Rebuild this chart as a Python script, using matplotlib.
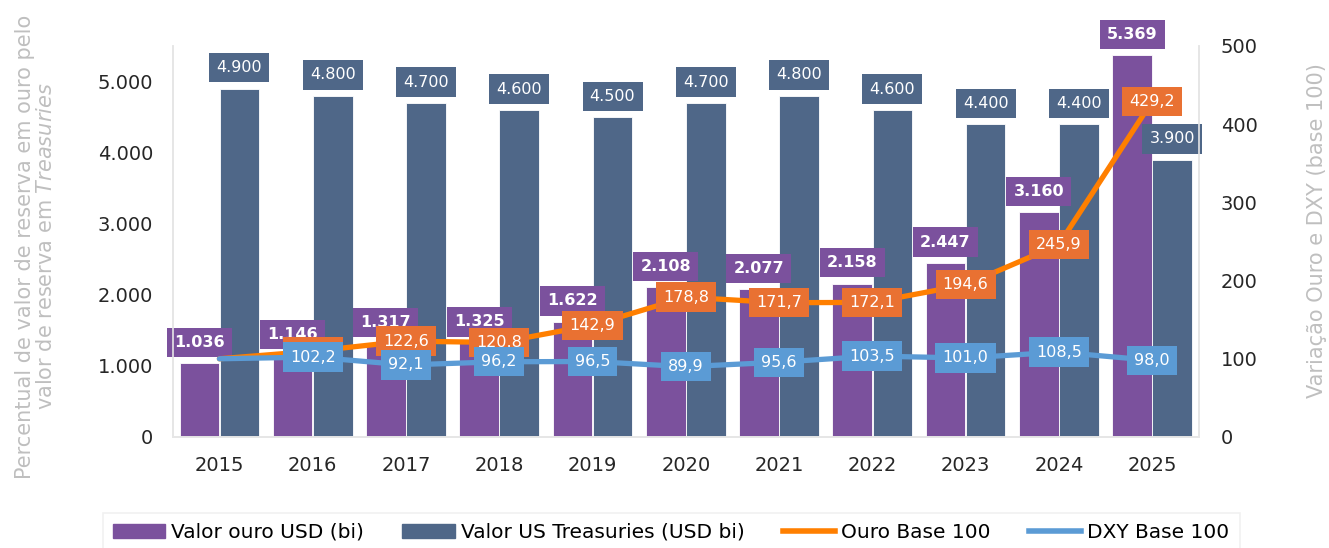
import matplotlib
matplotlib.use('Agg')
import matplotlib.pyplot as plt
from matplotlib.patches import Patch
from matplotlib.lines import Line2D
import numpy as np

plt.rcParams['font.family'] = ['DejaVu Sans']

# Dados
anos = ['2015', '2016', '2017', '2018', '2019', '2020', '2021', '2022', '2023', '2024', '2025']
ouro_usd = [1036, 1146, 1317, 1325, 1622, 2108, 2077, 2158, 2447, 3160, 5369]
treasuries_usd = [4900, 4800, 4700, 4600, 4500, 4700, 4800, 4600, 4400, 4400, 3900]
ouro_base100 = [100.0, 109.6, 122.6, 120.8, 142.9, 178.8, 171.7, 172.1, 194.6, 245.9, 429.2]
dxy_base100 = [100.0, 102.2, 92.1, 96.2, 96.5, 89.9, 95.6, 103.5, 101.0, 108.5, 98.0]
ouro_rotulos = ['', '109,6', '122,6', '120.8', '142,9', '178,8', '171,7', '172,1', '194,6', '245,9', '429,2']

ROXO = '#7B519D'
AZUL_ESC = '#4F6788'
LARANJA = '#FF7F00'
LARANJA_BOX = '#E97132'
AZUL = '#5B9BD5'
CINZA = '#BFBFBF'
SPINE = '#E6E6E6'


def milhar(v):
    return f'{v:,.0f}'.replace(',', '.')


def decimal(v):
    return f'{v:.1f}'.replace('.', ',')


fig = plt.figure(figsize=(13.29, 5.48), dpi=100)
ax = fig.add_axes([0.130, 0.2026, 0.772, 0.7135])
ax2 = ax.twinx()

x = np.arange(len(anos))
w = 0.425
ax.bar(x - 0.215, ouro_usd, w, color=ROXO, edgecolor='white', linewidth=0.6, zorder=2)
ax.bar(x + 0.215, treasuries_usd, w, color=AZUL_ESC, edgecolor='white', linewidth=0.6, zorder=2)

for i in range(len(anos)):
    ax.annotate(milhar(ouro_usd[i]), (x[i] - 0.215, ouro_usd[i]), xytext=(0, 15),
                textcoords='offset points', ha='center', va='center', color='white',
                fontsize=11.5, fontweight='bold', zorder=5,
                bbox=dict(boxstyle='square,pad=0.45', fc=ROXO, ec='none'))
    ax.annotate(milhar(treasuries_usd[i]), (x[i] + 0.215, treasuries_usd[i]), xytext=(0, 15),
                textcoords='offset points', ha='center', va='center', color='white',
                fontsize=11.5, zorder=5,
                bbox=dict(boxstyle='square,pad=0.45', fc=AZUL_ESC, ec='none'))

ax.set_xlim(-0.5, len(anos) - 0.5)
ax.set_ylim(0, 5500)
ax.set_yticks(range(0, 5001, 1000))
ax.set_yticklabels([milhar(v) for v in range(0, 5001, 1000)])
ax.set_xticks(x)
ax.set_xticklabels(anos)

ax2.set_ylim(0, 500)
ax2.set_yticks(range(0, 501, 100))
ax2.plot(x, ouro_base100, color=LARANJA, lw=3.8, solid_capstyle='round', zorder=3)
ax2.plot(x, dxy_base100, color=AZUL, lw=3.8, solid_capstyle='round', zorder=4)

for i in range(len(anos)):
    if ouro_rotulos[i]:
        ax2.annotate(ouro_rotulos[i], (x[i], ouro_base100[i]), ha='center', va='center',
                     color='white', fontsize=11.5, zorder=6,
                     bbox=dict(boxstyle='square,pad=0.45', fc=LARANJA_BOX, ec='none'))
    if i > 0:
        ax2.annotate(decimal(dxy_base100[i]), (x[i], dxy_base100[i]), ha='center', va='center',
                     color='white', fontsize=11.5, zorder=7,
                     bbox=dict(boxstyle='square,pad=0.45', fc=AZUL, ec='none'))

ax.set_zorder(1)
ax2.set_zorder(2)
ax2.patch.set_visible(False)

for a in (ax, ax2):
    a.spines['top'].set_visible(False)
    for s in ('left', 'right', 'bottom'):
        a.spines[s].set_color(SPINE)
        a.spines[s].set_linewidth(1.2)
    a.tick_params(length=0, labelsize=14, labelcolor='#262626')
ax.tick_params(axis='y', pad=14)
ax.tick_params(axis='x', pad=14)
ax2.tick_params(axis='y', pad=16)

fig.text(0.027, 0.55, 'Percentual de valor de reserva em ouro pelo\nvalor de reserva em $\\it{Treasuries}$',
         rotation=90, ha='center', va='center', multialignment='center',
         fontsize=15, color=CINZA, linespacing=1.05)
fig.text(0.991, 0.58, 'Variação Ouro e DXY (base 100)', rotation=90, ha='center', va='center',
         fontsize=15, color=CINZA)

handles = [Patch(color=ROXO), Patch(color=AZUL_ESC),
           Line2D([], [], color=LARANJA, lw=4), Line2D([], [], color=AZUL, lw=4)]
labels = ['Valor ouro USD (bi)', 'Valor US Treasuries (USD bi)', 'Ouro Base 100', 'DXY Base 100']
leg = fig.legend(handles, labels, loc='upper center', bbox_to_anchor=(0.505, 0.064), ncol=4,
                 fontsize=14.5, frameon=True, fancybox=False, edgecolor='#EEEEEE',
                 handlelength=2.6, columnspacing=1.9, handletextpad=0.3, borderpad=0.5,
                 borderaxespad=0)
leg.get_frame().set_linewidth(1.2)

fig.savefig('out.png', dpi=100)
